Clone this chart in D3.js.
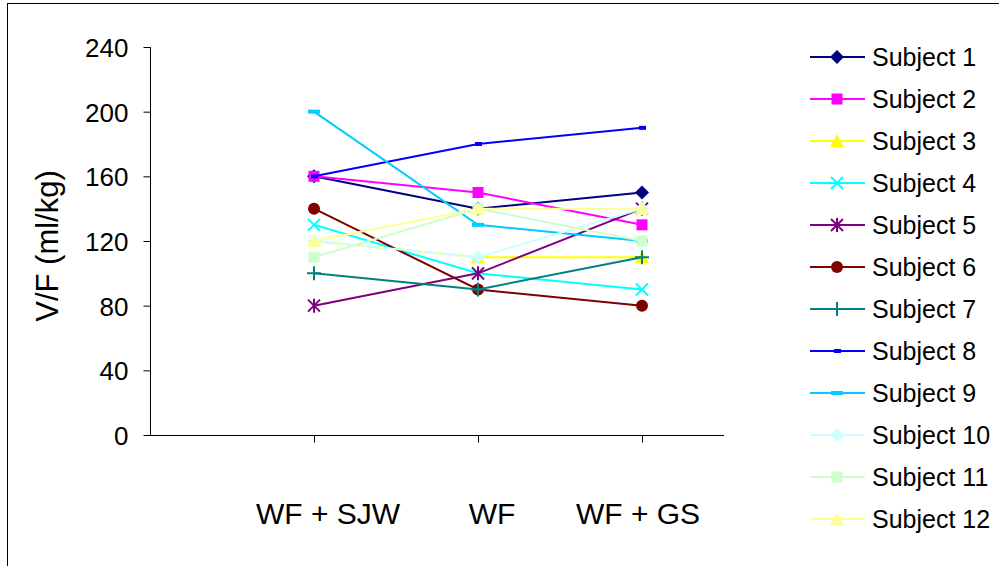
<!DOCTYPE html>
<html>
<head>
<meta charset="utf-8">
<script src="https://cdn.jsdelivr.net/npm/d3@7"></script>
<style>
  html, body { margin: 0; padding: 0; background: #fff; }
  svg { display: block; font-family: "Liberation Sans", Arial, sans-serif; }
</style>
</head>
<body>
<svg id="chart" width="999" height="566"></svg>
<script>
// Treatments on the x axis
const categories = ["WF + SJW", "WF", "WF + GS"];
// Y axis ticks, ml/kg
const yTicks = [0, 40, 80, 120, 160, 200, 240];
const subjects = ["Subject 1", "Subject 2", "Subject 3", "Subject 4", "Subject 5", "Subject 6",
                  "Subject 7", "Subject 8", "Subject 9", "Subject 10", "Subject 11", "Subject 12"];
// V/F per subject for each treatment
const subject1  = [160, 140, 150];
const subject2  = [160, 150, 130];
const subject3  = [120, 110, 110];
const subject4  = [130, 100, 90];
const subject5  = [80, 100, 140];
const subject6  = [140, 90, 80];
const subject7  = [100, 90, 110];
const subject8  = [160, 180, 190];
const subject9  = [200, 130, 120];
const subject10 = [120, 110, 140];
const subject11 = [110, 140, 120];
const subject12 = [120, 140, 140];
const values = [subject1, subject2, subject3, subject4, subject5, subject6,
                subject7, subject8, subject9, subject10, subject11, subject12];

const colors = ["#000080", "#FF00FF", "#FFFF00", "#00FFFF", "#800080", "#800000",
                "#008080", "#0000FF", "#00CCFF", "#CCFFFF", "#CCFFCC", "#FFFF99"];
const markers = ["diamond", "square", "triangle", "x", "star", "circle",
                 "plus", "dash", "dashWide", "diamond", "square", "triangle"];

const svg = d3.select("#chart");

// outer chart frame
svg.append("rect")
  .attr("x", 7.5).attr("y", 3.5).attr("width", 1100).attr("height", 700)
  .attr("fill", "none").attr("stroke", "#000").attr("stroke-width", 1);

const x = d3.scaleLinear().domain([0, 3.5]).range([150, 724]);
const y = d3.scaleLinear().domain([0, 240]).range([435, 47]);
const xPos = i => x(i + 1);

// y axis
const yAxis = d3.axisLeft(y).tickValues(yTicks).tickSize(7).tickPadding(15);
const gy = svg.append("g").attr("transform", "translate(150.5,0)").call(yAxis);
gy.select(".domain").attr("stroke", "#000").attr("d", `M0,${y(240)}V${y(0)}`);
gy.selectAll(".tick line").attr("stroke", "#000");
gy.selectAll(".tick text").attr("font-size", 26).attr("fill", "#000")
  .attr("font-family", "Liberation Sans, Arial, sans-serif").attr("dy", "0.36em");

// x axis
const gx = svg.append("g").attr("transform", "translate(0,435.5)");
gx.append("line").attr("x1", x(0)).attr("x2", x(3.5)).attr("stroke", "#000");
const labelShift = [14, 14, -4];
categories.forEach((c, i) => {
  gx.append("line").attr("x1", Math.round(xPos(i)) + 0.5).attr("x2", Math.round(xPos(i)) + 0.5)
    .attr("y1", 0).attr("y2", 7).attr("stroke", "#000");
  gx.append("text").attr("x", xPos(i) + labelShift[i]).attr("y", 88)
    .attr("text-anchor", "middle").attr("font-size", 30).attr("fill", "#000").text(c);
});

// y axis title
svg.append("text")
  .attr("transform", "translate(58,246) rotate(-90)")
  .attr("text-anchor", "middle").attr("font-size", 31).attr("fill", "#000")
  .text("V/F (ml/kg)");

function drawMarker(g, type, color, cx, cy) {
  const m = g.append("g").attr("transform", `translate(${cx},${cy})`);
  switch (type) {
    case "diamond":
      m.append("path").attr("d", "M0,-7L7,0L0,7L-7,0Z").attr("fill", color); break;
    case "square":
      m.append("rect").attr("x", -5.5).attr("y", -5.5).attr("width", 11).attr("height", 11).attr("fill", color); break;
    case "triangle":
      m.append("path").attr("d", "M0,-7L7,6L-7,6Z").attr("fill", color); break;
    case "circle":
      m.append("circle").attr("r", 6).attr("fill", color); break;
    case "x":
      m.append("path").attr("d", "M-6,-6L6,6M-6,6L6,-6").attr("stroke", color).attr("stroke-width", 2); break;
    case "star":
      m.append("path").attr("d", "M-6,-6L6,6M-6,6L6,-6M0,-7V7").attr("stroke", color).attr("stroke-width", 2); break;
    case "plus":
      m.append("path").attr("d", "M0,-7V7M-7,0H7").attr("stroke", color).attr("stroke-width", 2); break;
    case "dash":
      m.append("rect").attr("x", -3).attr("y", -2).attr("width", 7).attr("height", 4).attr("fill", color); break;
    case "dashWide":
      m.append("rect").attr("x", -6).attr("y", -2).attr("width", 12).attr("height", 4).attr("fill", color); break;
  }
}

const line = d3.line().x((d, i) => xPos(i)).y(d => y(d));
const plot = svg.append("g");
values.forEach((vals, s) => {
  const g = plot.append("g");
  g.append("path").datum(vals).attr("d", line)
    .attr("fill", "none").attr("stroke", colors[s]).attr("stroke-width", 2);
  vals.forEach((v, i) => drawMarker(g, markers[s], colors[s], xPos(i), y(v)));
});

// legend
const legend = svg.append("g");
subjects.forEach((name, s) => {
  const ly = 57 + s * 42;
  const g = legend.append("g");
  g.append("line").attr("x1", 810).attr("x2", 865).attr("y1", ly).attr("y2", ly)
    .attr("stroke", colors[s]).attr("stroke-width", 2);
  drawMarker(g, markers[s], colors[s], 837, ly);
  g.append("text").attr("x", 872).attr("y", ly).attr("dy", "0.36em")
    .attr("font-size", 25).attr("fill", "#000").text(name);
});
</script>
</body>
</html>
